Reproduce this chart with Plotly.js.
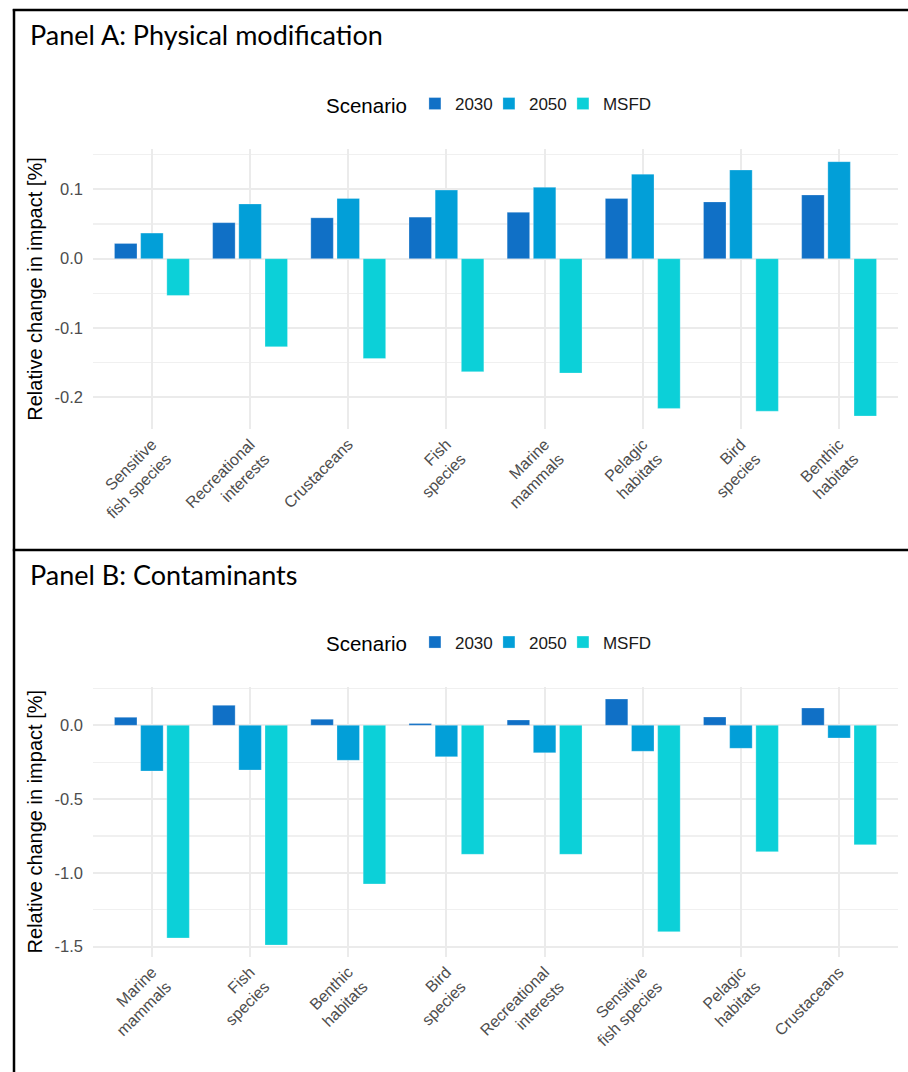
<!DOCTYPE html>
<html>
<head>
<meta charset="utf-8">
<script src="https://cdn.plot.ly/plotly-3.0.1.min.js"></script>
<style>
  html, body { margin: 0; padding: 0; background: #ffffff; }
  #chart { width: 908px; height: 1072px; }
</style>
</head>
<body>
<div id="chart"></div>
<script>
// ---------- Data ----------
const scenarios = ["2030", "2050", "MSFD"];
const scenarioColors = ["#1070C6", "#029FD8", "#0CD0D8"];

// Panel A: Physical modification
const categoriesA = [
  "Sensitive<br>fish species", "Recreational<br>interests", "Crustaceans",
  "Fish<br>species", "Marine<br>mammals", "Pelagic<br>habitats",
  "Bird<br>species", "Benthic<br>habitats"
];
const a2030 = [0.022, 0.052, 0.059, 0.060, 0.067, 0.087, 0.082, 0.092];
const a2050 = [0.037, 0.079, 0.087, 0.099, 0.103, 0.122, 0.128, 0.140];
const aMSFD = [-0.053, -0.127, -0.144, -0.163, -0.165, -0.216, -0.220, -0.227];

// Panel B: Contaminants
const categoriesB = [
  "Marine<br>mammals", "Fish<br>species", "Benthic<br>habitats",
  "Bird<br>species", "Recreational<br>interests", "Sensitive<br>fish species",
  "Pelagic<br>habitats", "Crustaceans"
];
const b2030 = [0.054, 0.135, 0.041, 0.013, 0.036, 0.178, 0.056, 0.117];
const b2050 = [-0.310, -0.303, -0.237, -0.213, -0.186, -0.176, -0.156, -0.086];
const bMSFD = [-1.441, -1.489, -1.075, -0.874, -0.874, -1.398, -0.856, -0.809];

// Axis ticks
const yTickValsA = [-0.2, -0.1, 0.0, 0.1];
const yTickTextA = ["-0.2", "-0.1", "0.0", "0.1"];
const yMinorA = [-0.15, -0.05, 0.05, 0.15];
const yTickValsB = [-1.5, -1.0, -0.5, 0.0];
const yTickTextB = ["-1.5", "-1.0", "-0.5", "0.0"];
const yMinorB = [-1.25, -0.75, -0.25, 0.25];

const panelTitleA = "Panel A: Physical modification";
const panelTitleB = "Panel B: Contaminants";
const yTitle = "Relative change in impact [%]";
const legendTitle = "Scenario";

// ---------- Build ----------
const W = 908, H = 1072;
const px = v => v / W;
const py = v => 1 - v / H;

const seriesA = [a2030, a2050, aMSFD];
const seriesB = [b2030, b2050, bMSFD];

const traces = [];
scenarios.forEach((s, i) => {
  traces.push({
    type: "bar", name: s, x: categoriesA, y: seriesA[i],
    xaxis: "x", yaxis: "y", legend: "legend",
    marker: { color: scenarioColors[i], line: { width: 0.6, color: "rgba(255,255,255,0.45)" } },
    hoverinfo: "x+y+name"
  });
});
scenarios.forEach((s, i) => {
  traces.push({
    type: "bar", name: s, x: categoriesB, y: seriesB[i],
    xaxis: "x2", yaxis: "y2", legend: "legend2",
    marker: { color: scenarioColors[i], line: { width: 0.6, color: "rgba(255,255,255,0.45)" } },
    hoverinfo: "x+y+name"
  });
});

const baseFont = "Liberation Sans, Arial, sans-serif";
const gridCol = "#EBEBEB";
const minorCol = "#F0F0F0";

function xAxis(anchor) {
  return {
    domain: [px(93), px(898)],
    anchor: anchor,
    type: "category",
    range: [-0.6, 7.6],
    showgrid: true, gridcolor: gridCol, gridwidth: 2,
    zeroline: false, showline: false, ticks: "",
    tickangle: -45,
    ticklabelstandoff: 2,
    tickfont: { family: baseFont, size: 16, color: "#4D4D4D" },
    fixedrange: true
  };
}
function yAxis(anchor, top, bottom, range, tv, tt, minor) {
  return {
    domain: [py(bottom), py(top)],
    anchor: anchor,
    range: range,
    tickmode: "array", tickvals: tv, ticktext: tt,
    showgrid: true, gridcolor: gridCol, gridwidth: 2,
    minor: { tickmode: "array", tickvals: minor, showgrid: true, gridcolor: minorCol, gridwidth: 1.2, ticks: "" },
    zeroline: false, showline: false, ticks: "",
    ticklabelstandoff: 9,
    tickfont: { family: baseFont, size: 16.5, color: "#4D4D4D" },
    title: { text: yTitle, font: { family: baseFont, size: 20, color: "#000000" }, standoff: 6 },
    fixedrange: true
  };
}

function legendCfg(yc) {
  return {
    orientation: "h",
    x: px(324), xanchor: "left",
    y: py(yc), yanchor: "middle",
    bgcolor: "rgba(0,0,0,0)",
    font: { family: baseFont, size: 17, color: "#1A1A1A" },
    title: { text: legendTitle, side: "left", font: { family: baseFont, size: 20.5, color: "#000000" } },
    itemwidth: 30,
    entrywidth: 29, entrywidthmode: "pixels",
    traceorder: "normal"
  };
}

const lineStyle = { color: "#000000", width: 2.5 };

const layout = {
  width: W, height: H,
  margin: { l: 0, r: 0, t: 0, b: 0, pad: 0 },
  paper_bgcolor: "#ffffff", plot_bgcolor: "#ffffff",
  font: { family: baseFont },
  barmode: "group",
  bargap: 0.2, bargroupgap: 0.14,
  xaxis: xAxis("y"),
  yaxis: yAxis("x", 149, 429, [-0.2457, 0.1583], yTickValsA, yTickTextA, yMinorA),
  xaxis2: xAxis("y2"),
  yaxis2: yAxis("x2", 686.7, 956.7, [-1.5678, 0.2615], yTickValsB, yTickTextB, yMinorB),
  legend: legendCfg(104.5),
  legend2: legendCfg(643),
  shapes: [
    { type: "line", xref: "paper", yref: "paper", x0: px(12.8), x1: 1, y0: py(10), y1: py(10), line: lineStyle },
    { type: "line", xref: "paper", yref: "paper", x0: px(14), x1: px(14), y0: py(9), y1: 0, line: lineStyle },
    { type: "line", xref: "paper", yref: "paper", x0: px(12.8), x1: 1, y0: py(550), y1: py(550), line: lineStyle }
  ],
  annotations: [
    { text: panelTitleA, xref: "paper", yref: "paper", x: px(28), y: py(34), xanchor: "left", yanchor: "middle",
      showarrow: false, font: { family: "Lato, Noto Sans, sans-serif", size: 27, color: "#000000" } },
    { text: panelTitleB, xref: "paper", yref: "paper", x: px(28), y: py(574), xanchor: "left", yanchor: "middle",
      showarrow: false, font: { family: "Lato, Noto Sans, sans-serif", size: 27, color: "#000000" } }
  ]
};

Plotly.newPlot("chart", traces, layout, { displayModeBar: false, staticPlot: true }).then(function (gd) {
  // let the last legend label ("MSFD") extend past the compact fixed-width entry
  gd.querySelectorAll("g.legend [clip-path], g.legend2 [clip-path], g[class^='legend'] [clip-path]")
    .forEach(function (el) { el.removeAttribute("clip-path"); });
});
</script>
</body>
</html>
